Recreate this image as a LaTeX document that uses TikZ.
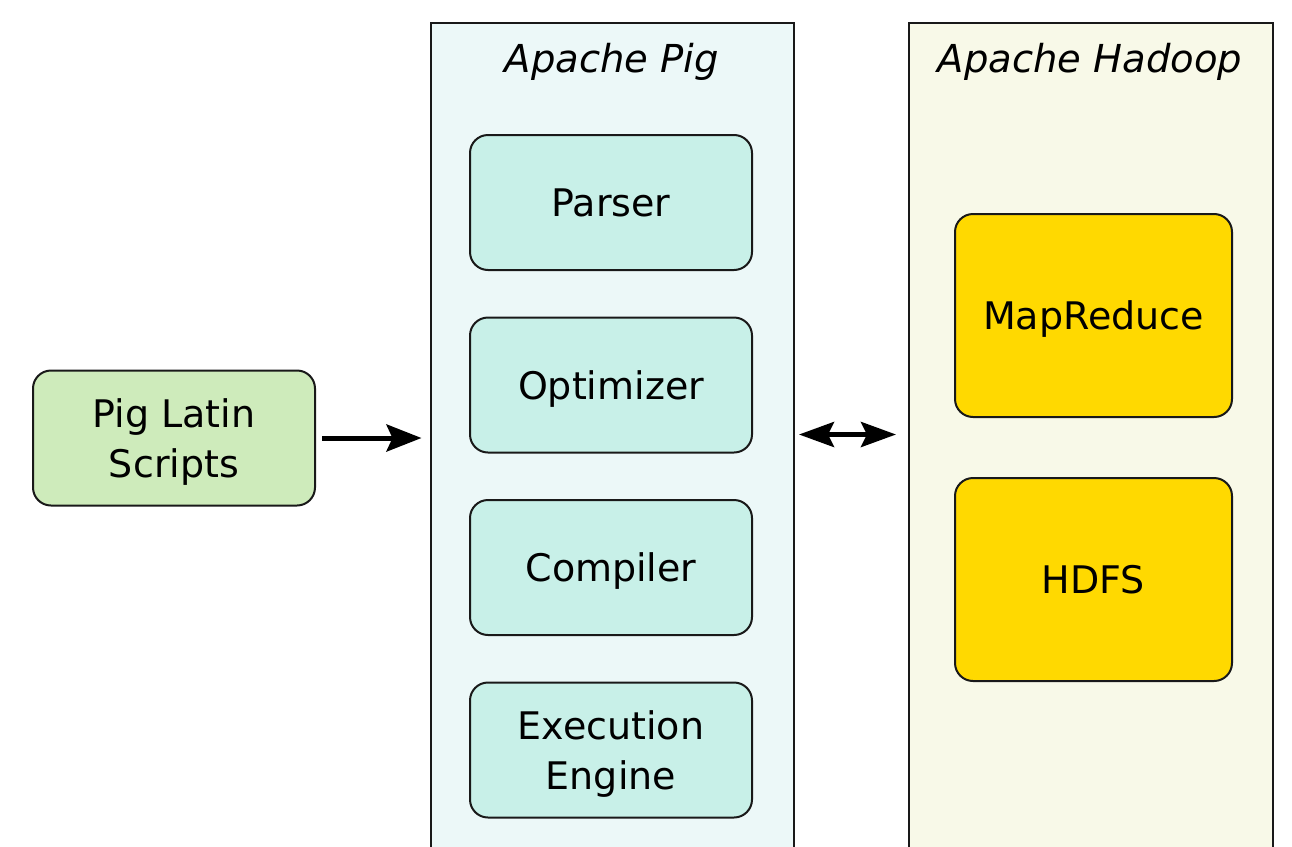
\documentclass[tikz,border=0pt]{standalone}
\usepackage{fontspec}
\setmainfont{DejaVu Sans}
\usetikzlibrary{arrows.meta}
\definecolor{pigbg}{RGB}{236,248,248}
\definecolor{pigin}{RGB}{200,240,232}
\definecolor{scriptc}{RGB}{206,235,187}
\definecolor{hadbg}{RGB}{248,249,232}
\definecolor{goldbox}{RGB}{255,217,0}
\definecolor{edge}{RGB}{25,25,25}
\begin{document}
\begin{tikzpicture}[x=1pt,y=-1pt,
  box/.style={draw=edge, line width=2pt, rounded corners=18pt, minimum width=282pt,
    minimum height=135pt, inner sep=0pt, align=center,
    font=\fontsize{38}{50}\selectfont, text depth=0pt},
  outer/.style={draw=edge, line width=2pt, minimum width=363pt, minimum height=900pt,
    anchor=north west, inner sep=0pt},
  title/.style={font=\fontsize{38.5}{46}\selectfont\itshape, anchor=base, inner sep=0pt},
  arr/.style={draw=black, line width=5pt, -{Stealth[length=35pt,width=27pt,inset=6pt]}},
  arr2/.style={draw=black, line width=5pt, {Stealth[length=35pt,width=25pt,inset=6pt]}-{Stealth[length=35pt,width=25pt,inset=6pt]}}
]
\useasboundingbox (0,0) rectangle (1292,846);
\clip (0,0) rectangle (1292,846);
\fill[white] (0,0) rectangle (1292,846);

\node[outer, fill=pigbg] (pig) at (430,22) {};
\node[outer, fill=hadbg, minimum width=364pt] (hadoop) at (908,22) {};
\node[title] (pigtitle) at (612,72) {Apache Pig};
\node[title] (hadtitle) at (1090,72) {Apache Hadoop};

\node[box, fill=scriptc] (scripts) at (174,438) {Pig Latin\\Scripts};

\node[box, fill=pigin] (parser) at (611,202.5) {Parser};
\node[box, fill=pigin] (optimizer) at (611,385) {Optimizer};
\node[box, fill=pigin] (compiler) at (611,567.5) {Compiler};
\node[box, fill=pigin] (engine) at (611,750) {Execution\\Engine};

\node[box, fill=goldbox, minimum width=277pt, minimum height=203pt] (mapreduce) at (1093.5,315.5) {MapReduce};
\node[box, fill=goldbox, minimum width=277pt, minimum height=203pt] (hdfs) at (1093.5,579.5) {HDFS};

\coordinate (dy) at (0,434.5);
\draw[arr, shorten <=6pt, shorten >=8.5pt] (scripts.east) -- (scripts.east -| pig.west);
\draw[arr2, shorten <=4pt, shorten >=12pt] (dy -| pig.east) -- (dy -| hadoop.west);
\end{tikzpicture}
\end{document}
